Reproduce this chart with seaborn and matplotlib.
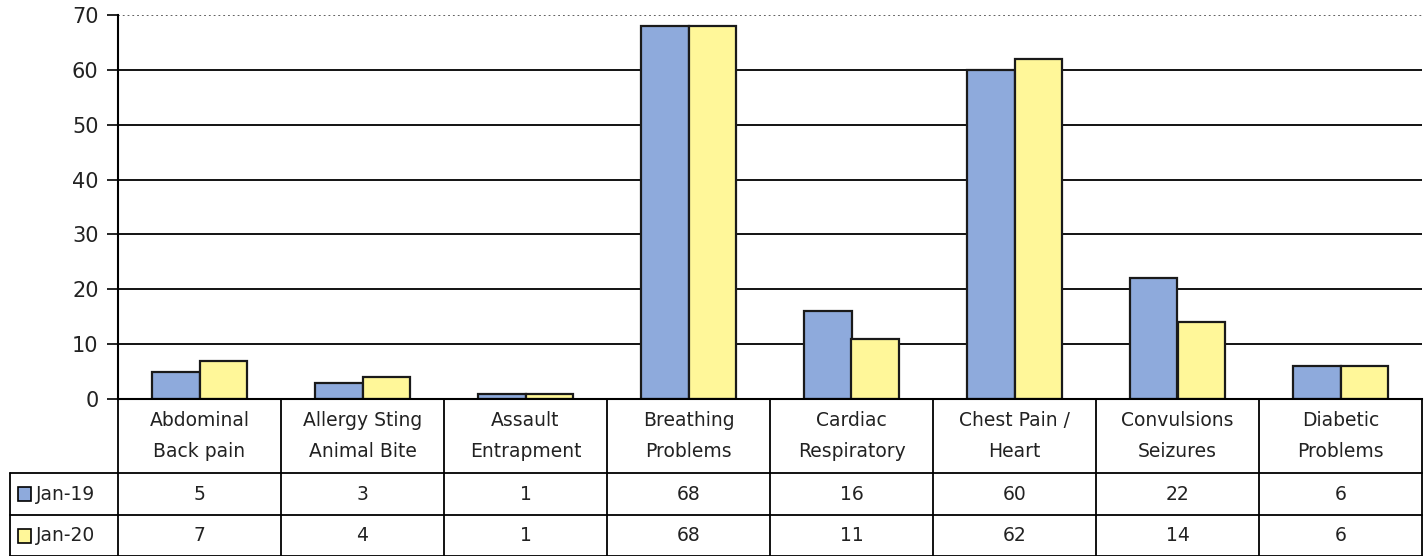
import pandas as pd
import matplotlib.pyplot as plt
import matplotlib.patches as mpatches
import seaborn as sns

sns.set_style("white")
plt.rcParams['font.family'] = ['DejaVu Sans']

# === Data ===
categories = ['Abdominal\nBack pain', 'Allergy Sting\nAnimal Bite', 'Assault\nEntrapment',
              'Breathing\nProblems', 'Cardiac\nRespiratory', 'Chest Pain /\nHeart',
              'Convulsions\nSeizures', 'Diabetic\nProblems']
series_names = ['Jan-19', 'Jan-20']
jan19 = [5, 3, 1, 68, 16, 60, 22, 6]
jan20 = [7, 4, 1, 68, 11, 62, 14, 6]
colors = ['#8eaadc', '#fff799']

df = pd.DataFrame({
    'Category': categories * 2,
    'Month': [series_names[0]] * len(categories) + [series_names[1]] * len(categories),
    'Calls': jan19 + jan20,
})

fig = plt.figure(figsize=(14.27, 5.56), dpi=100)
ax = fig.add_axes([118 / 1427, 1 - 399 / 556, (1422 - 118) / 1427, 384 / 556])

sns.barplot(data=df, x='Category', y='Calls', hue='Month', palette=colors, saturation=1,
            width=0.58, edgecolor='#1a1a1a', linewidth=1.6, legend=False, ax=ax)

ax.set_ylim(0, 70)
ax.set_xlim(-0.5, len(categories) - 0.5)
ax.set_yticks(range(0, 71, 10))
ax.tick_params(axis='y', labelsize=15, length=8, width=1.2, color='black',
               direction='out', left=True, pad=6, labelcolor='#222222')
ax.set_xticks([])
ax.set_xlabel('')
ax.set_ylabel('')
ax.yaxis.grid(True, color='black', linewidth=1.3)
ax.get_ygridlines()[-1].set_linestyle(':')
ax.get_ygridlines()[-1].set_color('#555555')
ax.set_axisbelow(True)
for side in ['top', 'right']:
    ax.spines[side].set_visible(False)
ax.spines['left'].set_linewidth(1.5)
ax.spines['left'].set_color('black')
ax.spines['bottom'].set_linewidth(1.5)
ax.spines['bottom'].set_color('black')

# === Data table below the chart ===
tr = ax.get_xaxis_transform()
row_tops = [0, -74 / 384, -116 / 384, -157 / 384]
label_left = -0.5 - 108 / 163
n = len(categories)
line_kw = dict(color='black', linewidth=1.3, clip_on=False, transform=tr)

# vertical lines
for i in range(n + 1):
    ax.plot([i - 0.5, i - 0.5], [row_tops[0], row_tops[-1]], **line_kw)
ax.plot([label_left, label_left], [row_tops[1], row_tops[-1]], **line_kw)
# horizontal lines
for y in row_tops[1:]:
    ax.plot([label_left, n - 0.5], [y, y], **line_kw)

# category labels
for i, cat in enumerate(categories):
    ax.text(i, (row_tops[0] + row_tops[1]) / 2, cat, transform=tr, ha='center', va='center',
            fontsize=13.5, linespacing=1.75, color='#222222')

# value rows
for r, (name, vals, col) in enumerate(zip(series_names, [jan19, jan20], colors)):
    yc = (row_tops[r + 1] + row_tops[r + 2]) / 2
    for i, v in enumerate(vals):
        ax.text(i, yc, str(v), transform=tr, ha='center', va='center', fontsize=13.5, color='#222222')
    sq = mpatches.Rectangle((label_left + 8 / 163, yc - 7 / 384), 13 / 163, 14 / 384,
                            facecolor=col, edgecolor='black', linewidth=1.2,
                            transform=tr, clip_on=False)
    ax.add_patch(sq)
    ax.text(label_left + 26 / 163, yc, name, transform=tr, ha='left', va='center',
            fontsize=13.5, color='#222222')

plt.savefig('out.png', dpi=100)
plt.close()
print("Saved: out.png")
